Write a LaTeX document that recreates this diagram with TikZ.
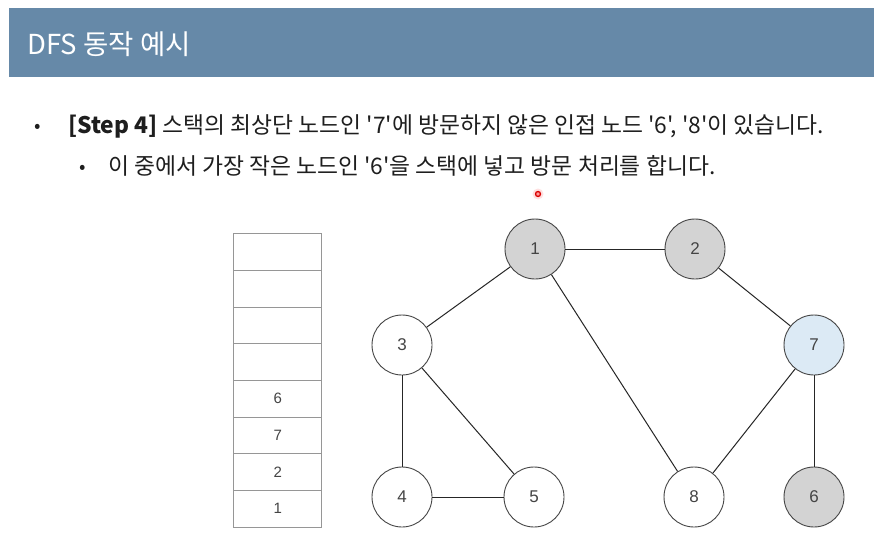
\documentclass[tikz,border=0pt]{standalone}
\usepackage{fontspec}
\setmainfont{Noto Sans CJK KR}[Ligatures=TeXOff]
\newfontfamily\numfont{Liberation Sans}
\definecolor{barblue}{RGB}{102,137,168}
\definecolor{visited}{RGB}{211,211,211}
\definecolor{current}{RGB}{220,234,245}
\definecolor{nodeline}{RGB}{70,70,70}
\definecolor{cellline}{RGB}{150,150,150}
\definecolor{txt}{RGB}{30,30,30}
\definecolor{numtxt}{RGB}{68,68,68}
\tikzset{
  gnode/.style={circle, draw=nodeline, line width=0.9pt, minimum size=60pt, inner sep=0pt,
    font=\numfont\fontsize{17}{20}\selectfont, text=numtxt, fill=white},
  seen/.style={fill=visited},
  cur/.style={fill=current},
  edge/.style={draw=black!85, line width=1pt},
  cell/.style={rectangle, draw=cellline, line width=0.8pt, minimum width=88pt, minimum height=36.67pt,
    inner sep=0pt, anchor=north west, font=\numfont\fontsize{15}{18}\selectfont, text=numtxt},
  line/.style={anchor=base west, inner sep=0pt, text=txt, font=\fontsize{22.8}{27}\selectfont},
  bullet/.style={anchor=base, inner sep=0pt, text=txt, font=\fontsize{19}{22}\selectfont}
}
\begin{document}
\begin{tikzpicture}[x=1pt,y=-1pt]
\useasboundingbox (0,0) rectangle (874,540);
\fill[white] (0,0) rectangle (874,540);
% title bar
\node[fill=barblue, minimum width=865pt, minimum height=69pt, inner sep=0pt, anchor=north west] (bar) at (9,8) {};
\node[anchor=base west, inner sep=0pt, text=white, font=\fontsize{27.5}{32}\selectfont] (title) at (27,55) {DFS 동작 예시};
% text lines
\node[bullet] (b1) at (38,133) {•};
\node[line] (l1) at (68,134) {{\bfseries [Step 4]} 스택의 최상단 노드인 '7'에 방문하지 않은 인접 노드 '6', '8'이 있습니다.};
\node[bullet] (b2) at (83,173) {•};
\node[line] (l2) at (108,174) {이 중에서 가장 작은 노드인 '6'을 스택에 넣고 방문 처리를 합니다.};
% pointer dot
\node[circle, fill=red!12, minimum size=11pt, inner sep=0pt] (glow) at (538,194) {};
\node[circle, draw=red!85!black, fill=red!40, line width=1.3pt, minimum size=5pt, inner sep=0pt] (dot) at (538,194) {};
% stack
\node[cell] (s1) at (233.3,233.3) {};
\node[cell] (s2) at (233.3,270) {};
\node[cell] (s3) at (233.3,306.7) {};
\node[cell] (s4) at (233.3,343.3) {};
\node[cell] (s5) at (233.3,380) {6};
\node[cell] (s6) at (233.3,416.7) {7};
\node[cell] (s7) at (233.3,453.3) {2};
\node[cell] (s8) at (233.3,490) {1};
% graph
\node[gnode, seen] (n1) at (535,249) {1};
\node[gnode, seen] (n2) at (695,249) {2};
\node[gnode] (n3) at (402,345) {3};
\node[gnode, cur] (n7) at (814,345) {7};
\node[gnode] (n4) at (402,497) {4};
\node[gnode] (n5) at (534,497) {5};
\node[gnode] (n8) at (694,497) {8};
\node[gnode, seen] (n6) at (814,497) {6};
\draw[edge] (n1) -- (n2);
\draw[edge] (n1) -- (n3);
\draw[edge] (n1) -- (n8);
\draw[edge] (n2) -- (n7);
\draw[edge] (n3) -- (n4);
\draw[edge] (n3) -- (n5);
\draw[edge] (n4) -- (n5);
\draw[edge] (n7) -- (n8);
\draw[edge] (n7) -- (n6);
\end{tikzpicture}
\end{document}
